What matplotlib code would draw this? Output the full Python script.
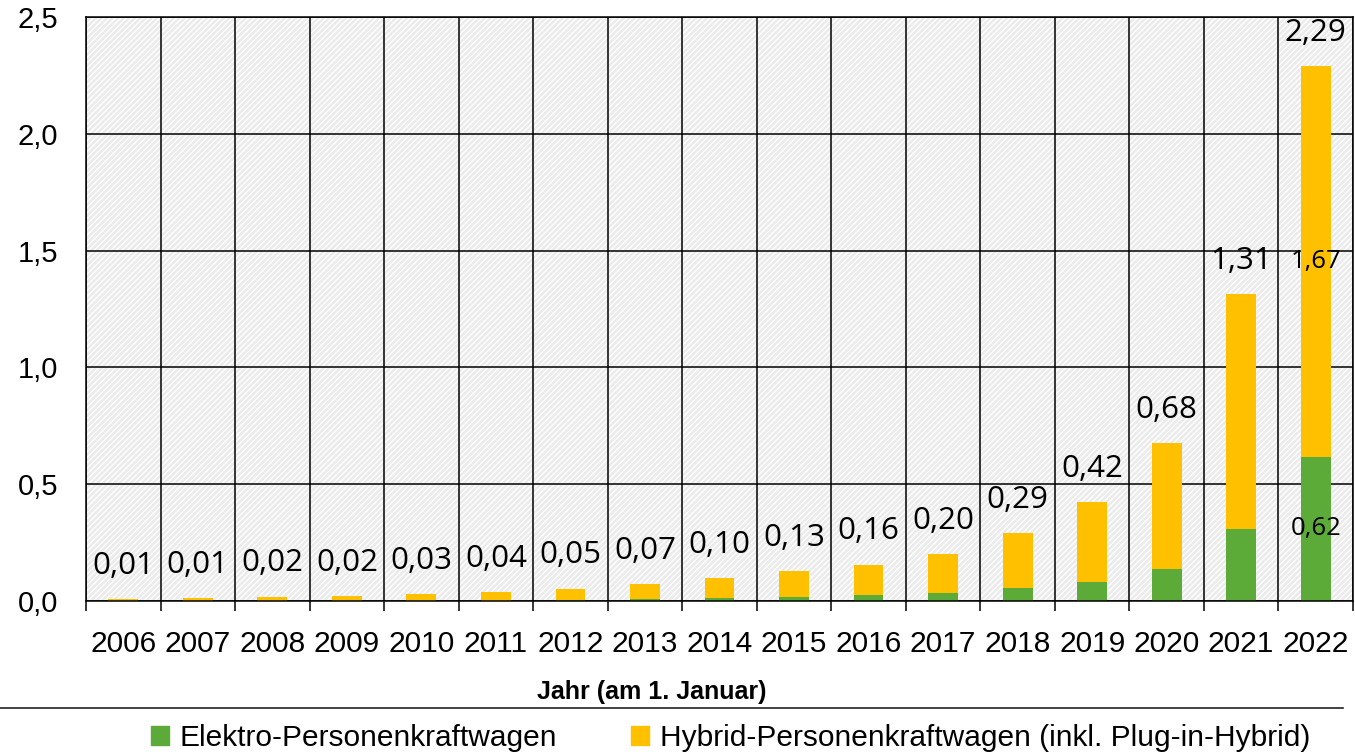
import matplotlib.pyplot as plt
import numpy as np
from matplotlib.patches import Rectangle, Patch
from matplotlib.lines import Line2D

years = ['2006', '2007', '2008', '2009', '2010', '2011', '2012', '2013', '2014',
         '2015', '2016', '2017', '2018', '2019', '2020', '2021', '2022']
# Bestand in Mio. (am 1. Januar)
elektro = [0.002, 0.002, 0.001, 0.001, 0.002, 0.002, 0.005, 0.007, 0.012,
           0.019, 0.026, 0.034, 0.054, 0.083, 0.137, 0.309, 0.618]
hybrid = [0.006, 0.009, 0.017, 0.021, 0.028, 0.037, 0.047, 0.064, 0.085,
          0.108, 0.130, 0.166, 0.237, 0.340, 0.540, 1.004, 1.672]
yticks = [0.0, 0.5, 1.0, 1.5, 2.0, 2.5]

GREEN = '#5CAB38'
GOLD = '#FFC000'


def de(v):
    return ('%.2f' % v).replace('.', ',')


plt.rcParams['hatch.linewidth'] = 1.0
fig = plt.figure(figsize=(13.55, 7.55), dpi=100)
ax = fig.add_axes([0.0635, 0.204, 0.935, 0.7735])

x = np.arange(len(years))
el = np.array(elektro)
hy = np.array(hybrid)
total = el + hy

# hatched background
ax.add_patch(Rectangle((0, 0), 1, 1, transform=ax.transAxes, facecolor='#ebebeb',
                       edgecolor='white', hatch='//////', lw=0, zorder=0))

ax.bar(x, el, width=0.4, color=GREEN, zorder=3)
ax.bar(x, hy, width=0.4, bottom=el, color=GOLD, zorder=3)

for i, t in enumerate(total):
    ax.annotate(de(t), (x[i], t), xytext=(0, 24), textcoords='offset points',
                ha='center', va='center', fontsize=22.5, family='Open Sans', zorder=5)

# inner labels for last year
ax.text(x[-1], el[-1] / 2, de(el[-1]), ha='center', va='center', fontsize=18.5,
        family='Open Sans', zorder=5)
ax.text(x[-1], el[-1] + hy[-1] / 2, de(hy[-1]), ha='center', va='center', fontsize=18.5,
        family='Open Sans', zorder=5)

ax.set_xlim(-0.5, len(years) - 0.5)
ax.set_ylim(0, 2.5)
ax.set_yticks(yticks)
ax.set_yticklabels([('%.1f' % v).replace('.', ',') for v in yticks],
                   family='Liberation Sans', fontsize=21)
ax.set_xticks(x)
ax.set_xticklabels(years, family='Liberation Sans', fontsize=21.5)
ax.set_xticks(np.arange(-0.5, len(years)), minor=True)
ax.tick_params(axis='x', which='major', length=0, pad=21)
ax.tick_params(axis='x', which='minor', length=7, width=1.1, color='black')
ax.tick_params(axis='y', length=0, pad=20)

ax.grid(axis='y', which='major', color='black', lw=1.1, zorder=1)
ax.grid(axis='x', which='minor', color='black', lw=1.1, zorder=1)
ax.set_axisbelow(True)
for s in ax.spines.values():
    s.set_color('black')
    s.set_linewidth(1.1)
    s.set_zorder(4)

fig.text(0.481, 0.084, 'Jahr (am 1. Januar)', ha='center', va='center',
         fontsize=18, fontweight='bold', family='Liberation Sans')
fig.add_artist(Line2D([0, 0.991], [0.0623, 0.0623], color='#222222', lw=1.2,
                      transform=fig.transFigure))

handles = [Patch(color=GREEN, label='Elektro-Personenkraftwagen'),
           Patch(color=GOLD, label='Hybrid-Personenkraftwagen (inkl. Plug-in-Hybrid)')]
fig.legend(handles=handles, loc='center', bbox_to_anchor=(0.539, 0.022), ncol=2,
           frameon=False, prop={'family': 'Liberation Sans', 'size': 21.5},
           handlelength=0.6, handleheight=0.6, handletextpad=0.35, columnspacing=2.5,
           borderpad=0)

fig.savefig('out.png', dpi=100)
